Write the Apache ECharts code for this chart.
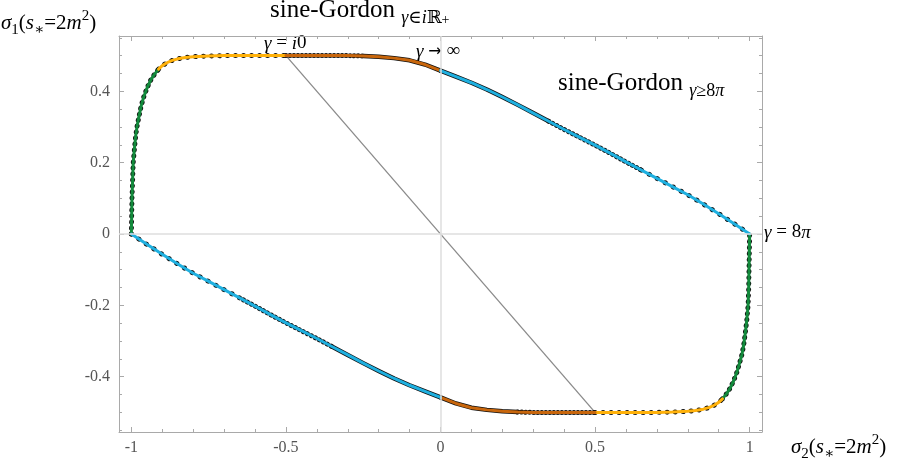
<!DOCTYPE html>
<html>
<head>
<meta charset="utf-8">
<script src="https://cdn.jsdelivr.net/npm/echarts@6/dist/echarts.min.js"></script>
<style>
html, body { margin: 0; padding: 0; background: #fff; }
#main { width: 900px; height: 458px; }
</style>
</head>
<body>
<div id="main"></div>
<script>
// curve pieces, [sigma2, sigma1]
var greenLeft = [[-1, 0], [-0.999, 0.05], [-0.998, 0.1], [-0.996, 0.15], [-0.994, 0.2], [-0.99, 0.24],
	[-0.986, 0.275], [-0.981, 0.305], [-0.975, 0.331], [-0.968, 0.36], [-0.959, 0.387],
	[-0.948, 0.412], [-0.937, 0.432], [-0.925, 0.448], [-0.912, 0.462]];
var yellowTop = [[-0.912, 0.462], [-0.9, 0.472], [-0.885, 0.48], [-0.87, 0.486], [-0.85, 0.491],
	[-0.825, 0.495], [-0.8, 0.497], [-0.75, 0.499], [-0.7, 0.5], [-0.6, 0.5], [-0.5, 0.5]];
var orangeTop = [[-0.5, 0.5], [-0.45, 0.5], [-0.4, 0.5], [-0.35, 0.5], [-0.3, 0.5], [-0.25, 0.499],
	[-0.2, 0.497], [-0.15, 0.493], [-0.1, 0.487], [-0.05, 0.475], [0, 0.458]];
var blueTop = [[0, 0.458], [0.05, 0.441], [0.1, 0.424], [0.15, 0.405], [0.2, 0.384], [0.25, 0.362],
	[0.3, 0.339], [0.35, 0.316], [0.4, 0.293], [0.45, 0.271], [0.5, 0.249], [0.55, 0.226],
	[0.6, 0.202], [0.65, 0.179], [0.7, 0.156], [0.75, 0.133], [0.8, 0.11], [0.85, 0.084],
	[0.9, 0.057], [0.95, 0.029], [1, 0]];
var blueBottom = [[-1, 0], [-0.95, -0.029], [-0.9, -0.057], [-0.85, -0.084], [-0.8, -0.11],
	[-0.75, -0.133], [-0.7, -0.156], [-0.65, -0.179], [-0.6, -0.202], [-0.55, -0.226],
	[-0.5, -0.249], [-0.45, -0.271], [-0.4, -0.293], [-0.35, -0.316], [-0.3, -0.339],
	[-0.25, -0.362], [-0.2, -0.384], [-0.15, -0.405], [-0.1, -0.424], [-0.05, -0.441], [0, -0.458]];
var orangeBottom = [[0, -0.458], [0.05, -0.475], [0.1, -0.487], [0.15, -0.493], [0.2, -0.497],
	[0.25, -0.499], [0.3, -0.5], [0.35, -0.5], [0.4, -0.5], [0.45, -0.5], [0.5, -0.5]];
var yellowBottom = [[0.5, -0.5], [0.6, -0.5], [0.7, -0.5], [0.75, -0.499], [0.8, -0.497],
	[0.825, -0.495], [0.85, -0.491], [0.87, -0.486], [0.885, -0.48], [0.9, -0.472], [0.912, -0.462]];
var greenRight = [[0.912, -0.462], [0.925, -0.448], [0.937, -0.432], [0.948, -0.412],
	[0.959, -0.387], [0.968, -0.36], [0.975, -0.338], [0.981, -0.31], [0.986, -0.277],
	[0.991, -0.24], [0.995, -0.2], [0.997, -0.15], [0.998, -0.1], [0.999, -0.05], [1, 0]];
var diagLine = [[-0.5, 0.5], [0.5, -0.5]];

var xMajor = [-1, -0.5, 0, 0.5, 1];
var xMinor = [-1, -0.9, -0.8, -0.7, -0.6, -0.5, -0.4, -0.3, -0.2, -0.1, 0, 0.1, 0.2, 0.3, 0.4, 0.5,
	0.6, 0.7, 0.8, 0.9, 1];
var yMajor = [-0.4, -0.2, 0, 0.2, 0.4];
var yMinor = [-0.55, -0.5, -0.45, -0.4, -0.35, -0.3, -0.25, -0.2, -0.15, -0.1, -0.05, 0, 0.05, 0.1,
	0.15, 0.2, 0.25, 0.3, 0.35, 0.4, 0.45, 0.5, 0.55];

var serif = "'Liberation Serif', 'DejaVu Serif', serif";
var frameColor = '#a9a9a9';

function axis(dim, pos, ticks, len, withLine, withLabels) {
	var a = {
		type : 'value',
		position : pos,
		min : dim === 'x' ? -1.04 : -0.555,
		max : dim === 'x' ? 1.04 : 0.555,
		splitLine : { show : false },
		axisLine : { show : withLine, onZero : false, lineStyle : { color : frameColor, width : 1 } },
		axisTick : { show : true, inside : true, length : len, customValues : ticks,
			lineStyle : { color : frameColor, width : 1 } },
		axisLabel : { show : false }
	};
	if (withLabels) {
		a.axisLabel = {
			show : true,
			customValues : ticks,
			color : '#555',
			fontFamily : serif,
			fontSize : 16,
			margin : dim === 'x' ? 8 : 9
		};
	}
	return a;
}

function curve(data, color) {
	return {
		type : 'line', data : data, showSymbol : false, silent : true, z : 4,
		lineStyle : { color : color, width : 3, cap : 'round', join : 'round' }
	};
}

function dots(data, gap) {
	var ls = { color : '#111', width : gap > 0 ? 5 : 4.4, cap : 'round', join : 'round' };
	if (gap > 0) {
		ls.type = [ 0.01, gap ];
	}
	return { type : 'line', data : data, showSymbol : false, silent : true, z : 3, lineStyle : ls };
}

function between(data, a, b) {
	return data.filter(function(p) { return p[0] >= a && p[0] <= b; });
}

var rmath = function(size, color) {
	var lh = size + 8;
	var small = Math.round(size * 0.72);
	return {
		n : { fontFamily : serif, fontSize : size, color : color, lineHeight : lh, verticalAlign : 'middle' },
		i : { fontFamily : serif, fontSize : size, color : color, fontStyle : 'italic', lineHeight : lh, verticalAlign : 'middle' },
		a : { fontFamily : 'DejaVu Sans', fontSize : size - 3, color : color, lineHeight : lh, verticalAlign : 'middle' },
		b : { fontFamily : serif, fontSize : small, color : color, lineHeight : lh, verticalAlign : 'bottom' },
		bi : { fontFamily : serif, fontSize : small, color : color, fontStyle : 'italic', lineHeight : lh, verticalAlign : 'bottom' },
		bb : { fontFamily : serif, fontSize : Math.round(size * 0.55), color : color, lineHeight : lh - 2, verticalAlign : 'bottom' },
		t : { fontFamily : serif, fontSize : small, color : color, lineHeight : lh, verticalAlign : 'top' }
	};
};

var option = {
	animation : false,
	backgroundColor : '#fff',
	grid : { left : 119, right : 138, top : 36, bottom : 26, containLabel : false },
	xAxis : [
		axis('x', 'bottom', xMajor, 5, true, true),
		axis('x', 'bottom', xMinor, 3, false, false),
		axis('x', 'top', xMajor, 5, true, false),
		axis('x', 'top', xMinor, 3, false, false)
	],
	yAxis : [
		axis('y', 'left', yMajor, 5, true, true),
		axis('y', 'left', yMinor, 3, false, false),
		axis('y', 'right', yMajor, 5, true, false),
		axis('y', 'right', yMinor, 3, false, false)
	],
	series : [
		{
			type : 'line', data : diagLine, showSymbol : false, silent : true, z : 2,
			lineStyle : { color : '#8a8a8a', width : 1.3 },
			markLine : {
				silent : true, symbol : 'none', label : { show : false },
				lineStyle : { color : '#dedede', width : 1.5, type : 'solid' },
				data : [ { xAxis : 0 }, { yAxis : 0 } ]
			}
		},
		dots(greenLeft, 6), dots(greenRight, 6),
		dots(yellowTop, 8), dots(yellowBottom, 8),
		dots(between(orangeTop, -0.5, -0.25), 4), dots(between(orangeTop, -0.25, 0), 0),
		dots(between(orangeBottom, 0.25, 0.5), 4), dots(between(orangeBottom, 0, 0.25), 0),
		dots(between(blueTop, 0, 0.35), 0), dots(between(blueTop, 0.35, 0.65), 4.5),
		dots(between(blueTop, 0.65, 1), 9),
		dots(between(blueBottom, -0.35, 0), 0), dots(between(blueBottom, -0.65, -0.35), 4.5),
		dots(between(blueBottom, -1, -0.65), 9),
		curve(greenLeft, '#138a3c'), curve(greenRight, '#138a3c'),
		curve(yellowTop, '#ffb10a'), curve(yellowBottom, '#ffb10a'),
		curve(orangeTop, '#c8660c'), curve(orangeBottom, '#c8660c'),
		curve(blueTop, '#1fb0e0'), curve(blueBottom, '#1fb0e0')
	],
	graphic : [
		{ type : 'text', left : 1, top : 9, style : {
			text : '{i|σ}{b|1}{n|(}{i|s}{b|∗}{n|=2}{i|m}{t|2}{n|)}', rich : rmath(21, '#222') } },
		{ type : 'text', left : 791, top : 433, style : {
			text : '{i|σ}{b|2}{n|(}{i|s}{b|∗}{n|=2}{i|m}{t|2}{n|)}', rich : rmath(21, '#222') } },
		{ type : 'text', left : 270, top : -2, style : {
			text : '{n|sine-Gordon }{bi|γ}{b|∈}{bi|i}{b|ℝ}{bb|+}', rich : rmath(25, '#c36a1f') } },
		{ type : 'text', left : 558, top : 71, style : {
			text : '{n|sine-Gordon }{bi|γ}{b|≥8}{bi|π}', rich : rmath(25, '#1b7c8f') } },
		{ type : 'text', left : 264, top : 34, style : {
			text : '{i|γ}{n| = }{i|i}{n|0}', rich : rmath(19, '#333') } },
		{ type : 'text', left : 416, top : 42, style : {
			text : '{i|γ}{n| }{a|→}{n| ∞}', rich : rmath(19, '#333') } },
		{ type : 'text', left : 764, top : 223, style : {
			text : '{i|γ}{n| = 8}{i|π}', rich : rmath(19, '#333') } }
	]
};

var myChart = echarts.init(document.getElementById('main'));
myChart.setOption(option, true);
window.onresize = function() {
	myChart.resize();
};
</script>
</body>
</html>
